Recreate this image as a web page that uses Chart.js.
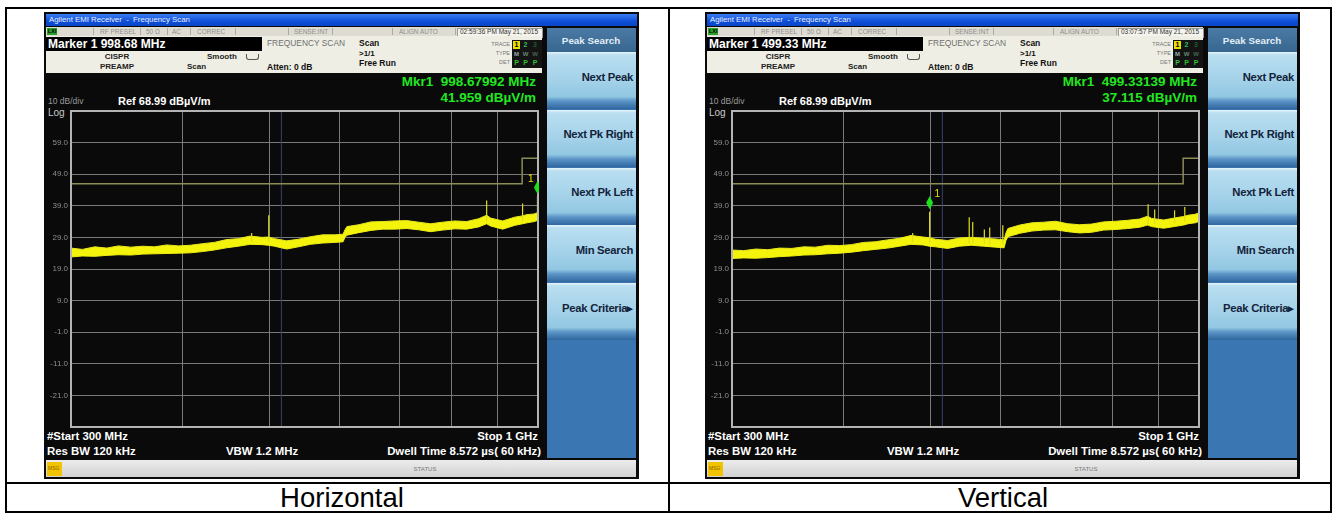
<!DOCTYPE html>
<html><head><meta charset="utf-8">
<script src="https://cdn.jsdelivr.net/npm/chart.js@4.4.1/dist/chart.umd.min.js"></script>
<style>
html,body{margin:0;padding:0;background:#fff;width:1337px;height:513px;overflow:hidden;position:relative;font-family:"Liberation Sans",Arial,sans-serif}
.a{position:absolute;white-space:pre}
.b{position:absolute}
</style></head><body>
<script>
// ---------- chart data ----------
const xGridMHz = [300, 400, 500, 600, 700, 800, 900, 1000];
const yGridLevels = [58.99, 48.99, 38.99, 28.99, 18.99, 8.99, -1.01, -11.01, -21.01];
const yTickLabels = ['59.0', '49.0', '39.0', '29.0', '19.0', '9.0', '-1.0', '-11.0', '-21.0'];
const refLevel = 68.99;
const bottomLevel = -31.01;
const startMHz = 300;
const stopMHz = 1000;
const limitFreq = [300, 960, 960, 1000];
const limitLevel = [46, 46, 54, 54];
const blueLineFreq = [516, 516];
const blueLineLevel = [-31.01, 68.99];

const freqH = [300,309,319,329,339,350,361,372,384,396,408,421,434,448,462,476,491,499,507,523,539,556,574,592,605,608,611,630,650,670,691,713,735,758,782,807,832,858,876,885,913,942,961,972,990,1000];
const lowerH = [22.8,23.1,23.0,23.3,23.5,23.4,23.7,23.8,23.9,24.0,24.1,24.5,25.0,25.7,26.2,26.8,26.7,26.5,26.2,25.3,26.0,26.8,27.2,27.4,27.6,29.0,29.7,30.5,31.2,31.6,31.6,31.8,31.4,30.8,31.3,31.7,31.6,32.3,33.3,32.6,31.6,32.8,33.3,33.6,34.0,34.4];
const upperH = [25.6,25.2,26.0,25.6,26.3,25.9,26.2,26.0,26.6,26.3,26.5,27.0,27.4,28.3,28.6,29.4,29.0,29.1,28.6,27.9,28.4,29.2,29.8,29.8,30.0,31.4,32.4,33.0,33.9,34.0,34.2,34.3,33.8,33.3,33.8,34.2,34.0,34.9,36.0,35.1,34.2,35.4,35.8,36.2,36.4,36.9];
const spikeFreqH = [478, 499.5, 876, 961, 998.68];
const spikeBaseH = [27.5, 27.5, 34.0, 34.0, 35.0];
const spikeTopH = [30.4, 36.0, 40.7, 39.7, 41.96];
const markerFreqH = [998.68];
const markerLevelH = [41.959];

const freqV = [300,309,319,329,339,350,361,372,384,396,408,421,434,448,462,476,491,499,507,523,539,556,574,592,605,608,611,630,650,670,691,713,735,758,782,807,832,858,876,885,913,942,961,972,990,1000];
const lowerV = [22.3,22.5,22.4,22.6,22.9,23.1,23.4,23.5,23.8,24.0,24.3,24.8,25.2,25.6,26.2,26.8,26.6,26.2,26.0,25.5,26.2,26.5,26.2,25.9,25.7,28.0,29.2,30.3,31.0,31.3,31.4,30.8,30.4,30.6,31.3,31.5,31.8,32.2,32.9,32.4,31.9,32.5,32.9,33.3,33.6,34.0];
const upperV = [25.0,24.8,25.3,25.1,25.6,25.5,26.0,25.9,26.5,26.4,26.7,27.4,27.6,28.2,28.7,29.6,29.1,28.9,28.4,28.0,28.8,29.0,28.7,28.5,28.2,30.4,31.8,32.9,33.6,33.8,34.1,33.3,33.0,33.2,33.9,34.1,34.4,34.8,35.7,35.0,34.5,35.2,35.6,36.0,36.3,36.8];
const spikeFreqV = [478, 499.33, 553, 558, 575, 583, 603, 877, 892, 939, 964, 1000];
const spikeBaseV = [27.5, 27.2, 27.0, 27.0, 27.0, 26.8, 26.8, 33.2, 33.2, 33.5, 34.0, 35.0];
const spikeTopV = [30.4, 37.115, 35.4, 33.9, 31.5, 32.1, 32.8, 39.5, 37.8, 37.6, 38.6, 41.8];
const markerFreqV = [499.33];
const markerLevelV = [37.115];

// ---------- helpers ----------
function box(x, y, w, h, css) {
  const d = document.createElement('div');
  d.className = 'b';
  d.style.cssText += `left:${x}px;top:${y}px;width:${w}px;height:${h}px;` + (css || '');
  document.body.appendChild(d);
  return d;
}
function txt(s, x, y, size, opt) {
  opt = opt || {};
  const d = document.createElement('div');
  d.className = 'a';
  d.textContent = s;
  const lh = Math.round(size * 1.3);
  let tr = '';
  if (opt.align === 'right') tr = 'translateX(-100%)';
  if (opt.align === 'center') tr = 'translateX(-50%)';
  d.style.cssText += `left:${x}px;top:${(y - lh / 2).toFixed(1)}px;font-size:${size}px;line-height:${lh}px;` +
    `color:${opt.color || '#fff'};font-weight:${opt.bold ? 'bold' : 'normal'};` + (tr ? `transform:${tr};` : '') + (opt.css || '');
  document.body.appendChild(d);
  return d;
}

function screen(dx, info, trace) {
  box(44 + dx, 12, 595, 467, 'background:#0a0a0a;');
  box(46 + dx, 14, 591, 12, 'background:linear-gradient(#3b7cf2,#0d4fd8 60%,#0a45c8);');
  txt('Agilent EMI Receiver  -  Frequency Scan', 49 + dx, 20, 7.8, {color: '#e8eeff'});
  box(46 + dx, 27, 496, 9, 'background:#dedcd2;');
  box(47 + dx, 28, 10, 7, 'background:#2aa02a;');
  txt('LXI', 48 + dx, 31.5, 5.5, {color: '#000', bold: true});
  [93, 140, 167, 190, 235, 288, 332, 392, 455].forEach(sx => box(sx + dx, 28, 1, 7, 'background:#aaa;'));
  const st = [['RF PRESEL', 100], ['50 \u03A9', 146], ['AC', 172], ['CORREC', 197], ['SENSE:INT', 294], ['ALIGN AUTO', 399]];
  st.forEach(s => txt(s[0], s[1] + dx, 31.5, 6.5, {color: '#8e8e8e'}));
  box(457 + dx, 27.5, 84, 8, 'background:#f4f3ec;border:1px solid #999;');
  txt(info.time, 460 + dx, 31.8, 6.5, {color: '#333'});
  box(46 + dx, 36, 496, 37, 'background:#efeee4;');
  box(46 + dx, 37, 216, 14, 'background:#000;');
  txt(info.markerTitle, 48 + dx, 44, 12, {bold: true});
  txt('FREQUENCY SCAN', 267 + dx, 43.5, 8.4, {color: '#6e6e6e'});
  txt('Scan', 359 + dx, 43.5, 8.5, {color: '#111', bold: true});
  txt('>1/1', 359 + dx, 53.5, 8, {color: '#111', bold: true});
  txt('Free Run', 359 + dx, 63.5, 8.5, {color: '#111', bold: true});
  txt('CISPR', 117 + dx, 56.5, 8, {color: '#222', bold: true, align: 'center'});
  txt('PREAMP', 117 + dx, 67, 8, {color: '#222', bold: true, align: 'center'});
  txt('Smooth', 207 + dx, 56.5, 8, {color: '#222', bold: true});
  txt('Scan', 187 + dx, 67, 8, {color: '#222', bold: true});
  box(246 + dx, 54, 11, 5, 'border:1.5px solid #555;border-top:none;border-radius:0 0 3px 3px;');
  txt('Atten: 0 dB', 267 + dx, 67, 8.5, {color: '#111', bold: true});
  txt('TRACE', 510 + dx, 44, 5.5, {color: '#777', align: 'right'});
  txt('TYPE', 510 + dx, 53, 5.5, {color: '#777', align: 'right'});
  txt('DET', 510 + dx, 62, 5.5, {color: '#777', align: 'right'});
  box(512 + dx, 39.5, 30, 28, 'background:#141414;');
  box(513 + dx, 40.5, 7, 8, 'background:#e8e000;');
  txt('1', 516.5 + dx, 44.5, 7, {color: '#000', bold: true, align: 'center'});
  txt('2', 525.5 + dx, 44.5, 7, {color: '#2fbf5f', bold: true, align: 'center'});
  txt('3', 535 + dx, 44.5, 7, {color: '#1d5c30', bold: true, align: 'center'});
  txt('M', 516.5 + dx, 53.5, 6, {color: '#9aa', bold: true, align: 'center'});
  txt('W', 525.5 + dx, 53.5, 6, {color: '#687', bold: true, align: 'center'});
  txt('W', 535 + dx, 53.5, 6, {color: '#465', bold: true, align: 'center'});
  txt('P', 516.5 + dx, 62.5, 7, {color: '#2ec22e', bold: true, align: 'center'});
  txt('P', 525.5 + dx, 62.5, 7, {color: '#2ec22e', bold: true, align: 'center'});
  txt('P', 535 + dx, 62.5, 7, {color: '#2ec22e', bold: true, align: 'center'});
  txt(info.mkrFreq, 536 + dx, 82, 13.5, {color: '#22e622', bold: true, align: 'right'});
  txt(info.mkrLevel, 536 + dx, 97.5, 13.5, {color: '#22e622', bold: true, align: 'right'});
  txt('10 dB/div', 48 + dx, 101, 8.5, {color: '#9a9a9a'});
  txt('Ref 68.99 dB\u00B5V/m', 118 + dx, 100.5, 11, {bold: true});
  txt('Log', 48 + dx, 112, 10, {color: '#c8c8c8'});
  txt('#Start 300 MHz', 47 + dx, 436.5, 11.4, {bold: true});
  txt('Stop 1 GHz', 538 + dx, 436.5, 11.4, {bold: true, align: 'right'});
  txt('Res BW 120 kHz', 47 + dx, 451, 11.4, {bold: true});
  txt('VBW 1.2 MHz', 226 + dx, 451, 11.4, {bold: true});
  txt('Dwell Time 8.572 \u00B5s( 60 kHz)', 541 + dx, 451, 11.4, {bold: true, align: 'right'});
  box(547 + dx, 28, 89, 430, 'background:#3a76b2;');
  box(547 + dx, 28, 89, 24, 'background:linear-gradient(#4b7aa6,#37668f);');
  txt('Peak Search', 591 + dx, 40, 9.8, {color: '#e4eef6', bold: true, align: 'center'});
  const keys = ['Next Peak', 'Next Pk Right', 'Next Pk Left', 'Min Search', 'Peak Criteria\u25B8'];
  keys.forEach((k, i) => {
    const y = 52 + i * 57.8;
    box(547 + dx, y, 89, 57, 'background:linear-gradient(#e6f4fa 0px,#b9def0 3px,#a6d3ea 45%,#92c7e2 78%,#5b94c6 86%,#2f669f 100%);');
    txt(k, 633 + dx, y + 25, 11.3, {color: '#13233a', bold: true, align: 'right', css: 'letter-spacing:-0.3px;'});
  });
  box(46 + dx, 460, 590, 17, 'background:linear-gradient(#ececec,#d2d2d2);');
  box(47 + dx, 461.5, 15, 14, 'background:#f2c400;');
  txt('MSG', 48 + dx, 468.5, 5, {color: '#8a6000'});
  txt('STATUS', 425 + dx, 469, 6, {color: '#777', align: 'center'});

  const cv = document.createElement('canvas');
  cv.width = 494; cv.height = 344;
  cv.style.cssText = `position:absolute;left:${46 + dx}px;top:97px;width:494px;height:344px;`;
  document.body.appendChild(cv);
  makeChart(cv, trace);
}

const framePlugin = {
  id: 'frameMarker',
  afterDatasetsDraw(chart) {
    const {ctx, chartArea: a, scales} = chart;
    ctx.save();
    ctx.strokeStyle = '#b4b4b4';
    ctx.lineWidth = 2;
    ctx.strokeRect(a.left, a.top, a.right - a.left, a.bottom - a.top);
    const tr = chart.options.plugins.frameMarker.trace;
    ctx.beginPath();
    ctx.rect(a.left, a.top, a.right - a.left + 1, a.bottom - a.top);
    ctx.clip();
    tr.markF.forEach((f, i) => {
      const x = scales.x.getPixelForValue(f);
      const y = scales.y.getPixelForValue(tr.markL[i]) - 9;
      ctx.fillStyle = '#1fe01f';
      ctx.beginPath();
      ctx.moveTo(x, y - 6.5); ctx.lineTo(x + 3.5, y); ctx.lineTo(x, y + 6.5); ctx.lineTo(x - 3.5, y); ctx.closePath();
      ctx.fill();
      ctx.fillStyle = '#e6e600';
      ctx.font = '10px "Liberation Sans", Arial';
      ctx.textBaseline = 'middle';
      if (x > a.right - 12) { ctx.textAlign = 'right'; ctx.fillText('1', x - 4, y - 8); }
      else { ctx.textAlign = 'left'; ctx.fillText('1', x + 5, y - 8); }
    });
    ctx.restore();
  }
};

function makeChart(cv, tr) {
  const pts = (xs, ys) => xs.map((x, i) => ({x: x, y: ys[i]}));
  const spikes = [];
  tr.spikeF.forEach((f, i) => { spikes.push({x: f, y: tr.spikeBase[i]}, {x: f, y: tr.spikeTop[i]}, {x: f, y: null}); });
  new Chart(cv, {
    type: 'line',
    data: {
      datasets: [
        {data: spikes, borderColor: '#dede1e', borderWidth: 1.2, spanGaps: false},
        {data: pts(tr.freq, tr.upper), borderColor: '#e8e81e', borderWidth: 1, fill: '+1', backgroundColor: '#f3f30c'},
        {data: pts(tr.freq, tr.lower), borderColor: '#e8e81e', borderWidth: 1, fill: false},
        {data: pts(limitFreq, limitLevel), borderColor: '#8c8c56', borderWidth: 1.5, fill: false},
        {data: pts(blueLineFreq, blueLineLevel), borderColor: '#3b4270', borderWidth: 1, fill: false}
      ]
    },
    options: {
      responsive: false, animation: false, devicePixelRatio: 1,
      layout: {padding: {left: 0, right: 2, top: 14, bottom: 14}},
      elements: {point: {radius: 0}, line: {tension: 0}},
      plugins: {legend: {display: false}, tooltip: {enabled: false}, frameMarker: {trace: tr}},
      scales: {
        x: {
          type: 'logarithmic', min: startMHz, max: stopMHz, bounds: 'data',
          afterBuildTicks: s => { s.ticks = xGridMHz.map(v => ({value: v})); },
          afterFit: s => { s.height = 0; },
          ticks: {display: false},
          grid: {color: '#7a7a7a', lineWidth: 1, drawTicks: false},
          border: {display: false}
        },
        y: {
          type: 'linear', min: bottomLevel, max: refLevel, bounds: 'data',
          afterBuildTicks: s => { s.ticks = yGridLevels.map(v => ({value: v})); },
          afterFit: s => { s.width = 25; },
          ticks: {
            padding: 3, color: '#8e8e8e', font: {size: 8, family: '"Liberation Sans", Arial'},
            callback: (v, i) => yTickLabels[i]
          },
          grid: {color: '#7a7a7a', lineWidth: 1, drawTicks: false},
          border: {display: false}
        }
      }
    },
    plugins: [framePlugin]
  });
}

// ---------- table ----------
box(5, 7, 1327, 2, 'background:#000;');
box(5, 511, 1327, 2, 'background:#000;');
box(5, 7, 2, 506, 'background:#000;');
box(1330, 7, 2, 506, 'background:#000;');
box(668, 7, 2, 506, 'background:#000;');
box(5, 482, 1327, 2, 'background:#000;');
txt('Horizontal', 342, 498, 27.5, {color: '#000', align: 'center'});
txt('Vertical', 1003, 498, 27.5, {color: '#000', align: 'center'});

screen(0, {markerTitle: 'Marker 1 998.68 MHz', time: '02:59:36 PM May 21, 2015', mkrFreq: 'Mkr1  998.67992 MHz', mkrLevel: '41.959 dB\u00B5V/m'},
  {freq: freqH, lower: lowerH, upper: upperH, spikeF: spikeFreqH, spikeBase: spikeBaseH, spikeTop: spikeTopH, markF: markerFreqH, markL: markerLevelH});
screen(661, {markerTitle: 'Marker 1 499.33 MHz', time: '03:07:57 PM May 21, 2015', mkrFreq: 'Mkr1  499.33139 MHz', mkrLevel: '37.115 dB\u00B5V/m'},
  {freq: freqV, lower: lowerV, upper: upperV, spikeF: spikeFreqV, spikeBase: spikeBaseV, spikeTop: spikeTopV, markF: markerFreqV, markL: markerLevelV});
</script>
</body></html>
